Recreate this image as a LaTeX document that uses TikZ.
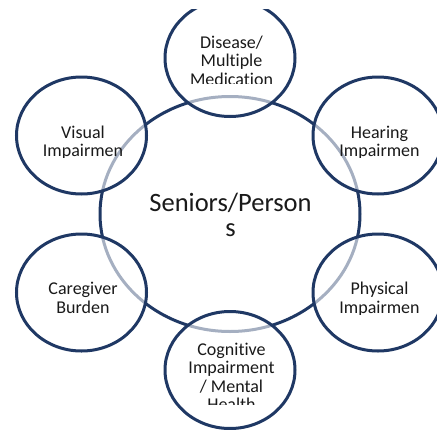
\documentclass[tikz,border=0pt]{standalone}
\usepackage{fontspec}
\setmainfont{Carlito}[Ligatures={NoCommon,NoRare,NoContextual}]
\usetikzlibrary{shapes.geometric}
\definecolor{ringblue}{HTML}{1F3864}
\definecolor{txt}{HTML}{1A1A1A}
\tikzset{
  ring/.style={ellipse, draw=ringblue, line width=3pt, inner sep=0pt},
  bigring/.style={ring, fill=white, minimum width=260pt, minimum height=235pt},
  smallring/.style={ring, fill=white, fill opacity=0.6, draw opacity=1, minimum width=130pt, minimum height=117pt},
  smalltext/.style={anchor=base, align=center, text=txt, inner sep=0pt, font=\fontsize{18}{18.5}\selectfont},
  bigtext/.style={anchor=base, align=center, text=txt, inner sep=0pt, font=\fontsize{26.5}{25}\selectfont}
}
\begin{document}
\begin{tikzpicture}[x=1pt,y=-1pt]
\useasboundingbox (0,0) rectangle (437,429);
\clip (0,9) rectangle (437,429);
\node[bigring] (c) at (230,214) {};
\node[smallring] (d) at (230,58) {};
\node[smallring] (v) at (81.5,135.5) {};
\node[smallring] (h) at (378,135.5) {};
\node[smallring] (b) at (81.5,292.5) {};
\node[smallring] (p) at (378,292.5) {};
\node[smallring] (g) at (230,370) {};
\node[bigtext] (ct) at (230.5,236) {Seniors/Person\\s};
\begin{scope}
  \clip (160,20) rectangle (300,83);
  \node[smalltext] (dt) at (231.5,85) {Disease/\\Multiple\\Medication};
\end{scope}
\begin{scope}
  \clip (20,110) rectangle (145,157.5);
  \node[smalltext] (vt) at (83,156.5) {Visual\\Impairmen};
\end{scope}
\begin{scope}
  \clip (315,110) rectangle (437,157.5);
  \node[smalltext] (ht) at (379.5,156.5) {Hearing\\Impairmen};
\end{scope}
\begin{scope}
  \clip (20,265) rectangle (145,320);
  \node[smalltext] (bt) at (83,313) {Caregiver\\Burden};
\end{scope}
\begin{scope}
  \clip (315,265) rectangle (437,314);
  \node[smalltext] (pt) at (379.5,313) {Physical\\Impairmen};
\end{scope}
\begin{scope}
  \clip (160,330) rectangle (300,404);
  \node[smalltext] (gt) at (231.5,410.5) {Cognitive\\Impairment\\/ Mental\\Health};
\end{scope}
\end{tikzpicture}
\end{document}
